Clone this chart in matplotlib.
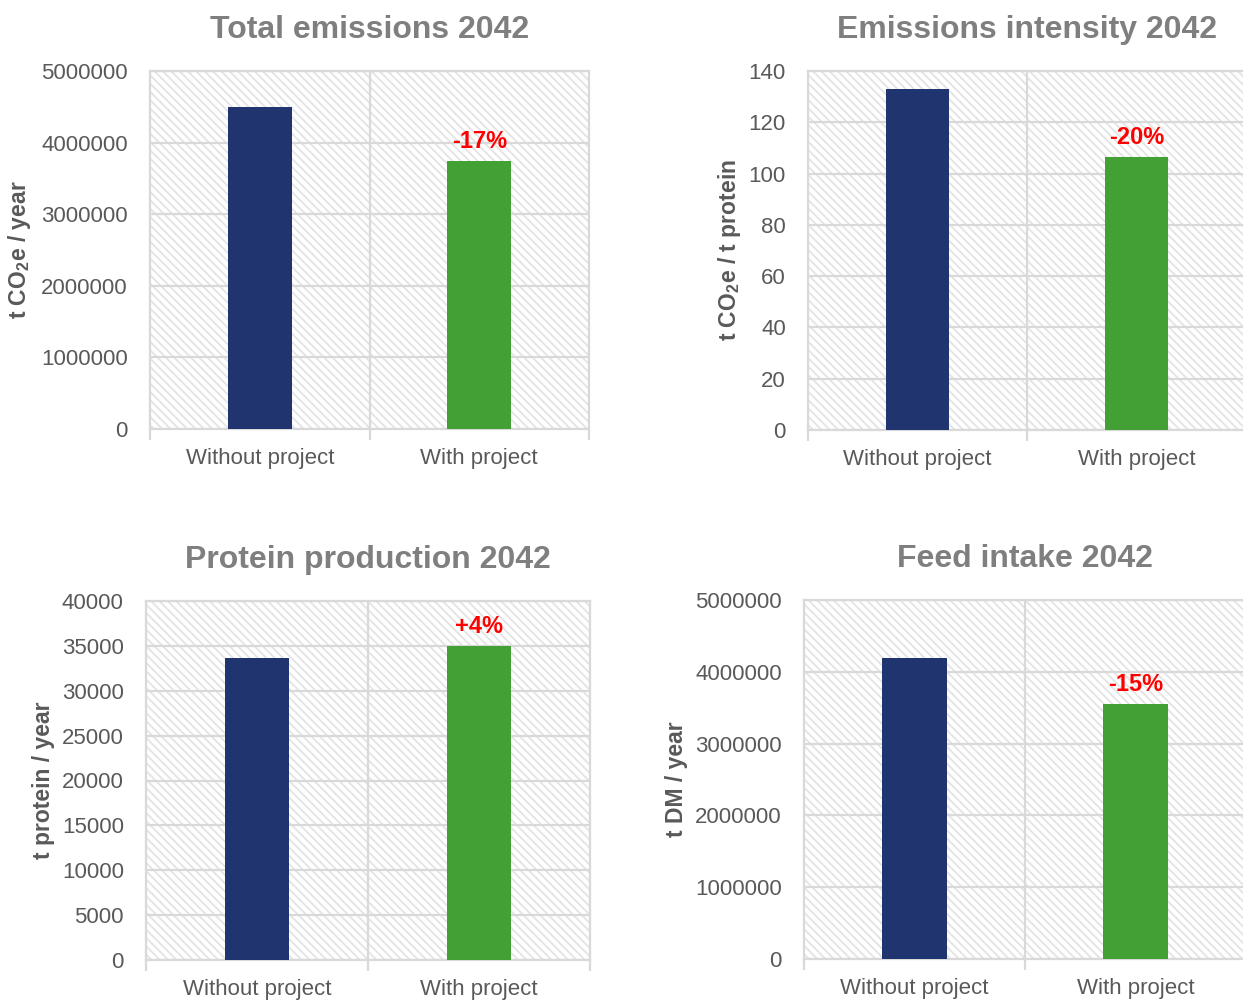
import numpy as np
import matplotlib
matplotlib.use("Agg")
import matplotlib.pyplot as plt
from matplotlib.patches import Rectangle

plt.rcParams['font.family'] = ['Liberation Sans', 'DejaVu Sans']
plt.rcParams['mathtext.fontset'] = 'custom'
plt.rcParams['mathtext.rm'] = 'Liberation Sans:bold'
plt.rcParams['mathtext.it'] = 'Liberation Sans:bold'
plt.rcParams['mathtext.bf'] = 'Liberation Sans:bold'
plt.rcParams['hatch.color'] = '#e4e4e4'
plt.rcParams['hatch.linewidth'] = 1.3

# ── Datos ─────────────────────────────────────────────────
escenarios = ['Without project', 'With project']

emisiones_totales = [4500000, 3740000]
intensidad        = [133, 106.5]
proteina          = [33700, 35000]
consumo_alimento  = [4190000, 3550000]

titulos   = ['Total emissions 2042', 'Emissions intensity 2042',
             'Protein production 2042', 'Feed intake 2042']
etiq_y    = ['t CO$_2$e / year', 't CO$_2$e / t protein',
             't protein / year', 't DM / year']
cambios   = ['-17%', '-20%', '+4%', '-15%']
ymax      = [5000000, 140, 40000, 5000000]
ypaso     = [1000000, 20, 5000, 1000000]

# ── Colores ───────────────────────────────────────────────
AZUL   = '#203570'
VERDE  = '#43a035'
GRIS_T = '#7f7f7f'
GRIS_L = '#595959'
GRID   = '#d9d9d9'

W, H = 1243, 1001
fig = plt.figure(figsize=(W / 100, H / 100), dpi=100)

# cajas de cada panel en pixeles: izquierda, derecha, arriba, abajo,
# borde derecho de la etiqueta y
cajas = [(150, 589, 71, 429, 33),
         (808, 1246, 71, 430, 743),
         (146, 590, 601, 960, 55),
         (804, 1246, 600, 959, 688)]

series = [emisiones_totales, intensidad, proteina, consumo_alimento]

for i, (vals, (x0, x1, y0, y1, xlab)) in enumerate(zip(series, cajas)):
    ax = fig.add_axes([x0 / W, (H - y1) / H, (x1 - x0) / W, (y1 - y0) / H])
    ax.set_xlim(-0.5, 1.5)
    ax.set_ylim(0, ymax[i])

    # fondo rayado
    fondo = Rectangle((0, 0), 1, 1, transform=ax.transAxes, facecolor='white',
                      edgecolor='#e4e4e4', hatch='\\\\\\\\', linewidth=0, zorder=0)
    ax.add_patch(fondo)

    ax.set_yticks(np.arange(0, ymax[i] + ypaso[i] / 2, ypaso[i]))
    ax.grid(axis='y', color=GRID, linewidth=1.6, zorder=1)
    ax.axvline(0.5, color=GRID, linewidth=1.6, zorder=1)
    ax.set_axisbelow(True)

    ax.bar([0, 1], vals, width=0.29, color=[AZUL, VERDE], zorder=3)

    ax.annotate(cambios[i], (1, vals[1]), xytext=(0, 6), textcoords='offset points',
                ha='center', va='bottom', color='red', fontsize=17,
                fontweight='bold', zorder=4)

    for lado in ['left', 'right', 'top', 'bottom']:
        ax.spines[lado].set_color(GRID)
        ax.spines[lado].set_linewidth(1.6)

    ax.set_xticks([0, 1])
    ax.set_xticklabels(escenarios)
    ax.set_xticks([-0.5, 0.5, 1.5], minor=True)
    ax.tick_params(axis='x', which='major', length=0, pad=14,
                   labelsize=16, labelcolor=GRIS_L)
    ax.tick_params(axis='x', which='minor', length=8, width=1.6, color=GRID)
    ax.tick_params(axis='y', length=0, pad=16, labelsize=16, labelcolor=GRIS_L)
    ax.yaxis.set_major_formatter(matplotlib.ticker.FuncFormatter(lambda v, p: f'{v:.0f}'))

    ax.set_title(titulos[i], fontsize=23, fontweight='bold', color=GRIS_T, pad=24)
    ax.set_ylabel(etiq_y[i], fontsize=16.5, fontweight='bold', color=GRIS_L)
    ax.yaxis.set_label_coords((xlab - x0) / (x1 - x0), 0.5)

fig.savefig('out.png', dpi=100)
